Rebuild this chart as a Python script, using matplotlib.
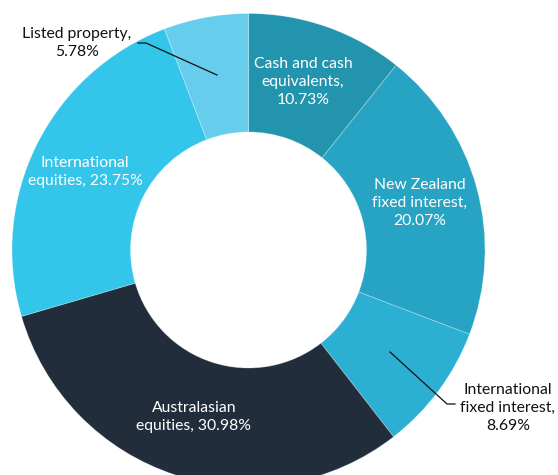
import matplotlib.pyplot as plt

# Asset allocation, clockwise from 12 o'clock
labels = ['Cash and cash\nequivalents,\n10.73%',
          'New Zealand\nfixed interest,\n20.07%',
          'International\nfixed interest,\n8.69%',
          'Australasian\nequities, 30.98%',
          'International\nequities, 23.75%',
          'Listed property,\n5.78%']
shares = [10.73, 20.07, 8.69, 30.98, 23.75, 5.78]
colors = ['#2394ae', '#27a3c3', '#2bb0d4', '#222d3b', '#33c6ea', '#66ceec']

W, H = 558, 475
plt.rcParams['font.family'] = ['Lato', 'DejaVu Sans']

fig = plt.figure(figsize=(W / 100, H / 100), dpi=100)
ax = fig.add_axes([0, 0, 1, 1])

cx, cy = 248.5, H - 250
r_out, r_in = 236.5, 118

ax.pie(shares, colors=colors, startangle=90, counterclock=False,
       center=(cx, cy), radius=r_out, frame=True,
       wedgeprops=dict(width=r_out - r_in, edgecolor=(1, 1, 1, 0.3), linewidth=0.6))
ax.set_xlim(0, W)
ax.set_ylim(0, H)
ax.set_aspect('equal')
ax.axis('off')

fs = 11.3
ls = 1.38
# label positions in pixels (x, y from top)
inside = {0: (303, 82), 1: (420, 203), 3: (194, 417), 4: (85, 172)}
for i, (x, y) in inside.items():
    ax.text(x, H - y, labels[i], color='white', fontsize=fs, ha='center',
            va='center', linespacing=ls)

ax.text(508, H - 408, labels[2], color='#111111', fontsize=fs, ha='center',
        va='center', linespacing=ls)
ax.plot([390, 447, 455], [H - 352, H - 404, H - 404], color='#111111', lw=0.9)

ax.text(77, H - 43, labels[5], color='#111111', fontsize=fs, ha='center',
        va='center', linespacing=ls)
ax.plot([138, 146, 217], [H - 43, H - 43, H - 75], color='#111111', lw=0.9)

fig.savefig('out.png', dpi=100)
